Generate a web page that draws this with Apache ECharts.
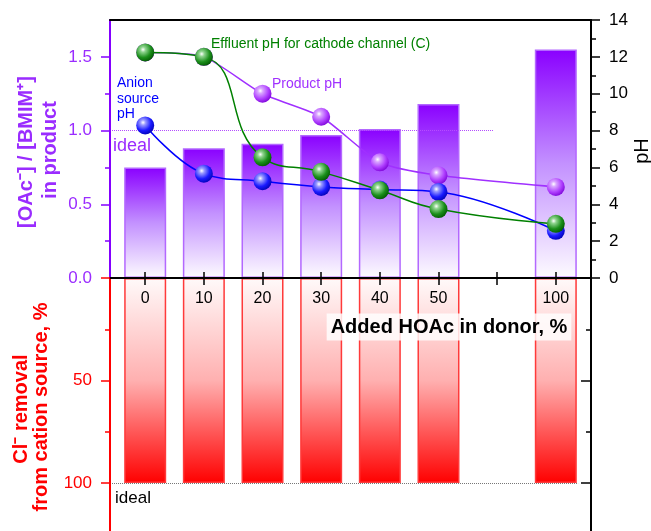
<!DOCTYPE html>
<html>
<head>
<meta charset="utf-8">
<script src="https://cdn.jsdelivr.net/npm/echarts@6/dist/echarts.min.js"></script>
<style>
html,body{margin:0;padding:0;background:#fff;}
#chart{width:651px;height:531px;}
</style>
</head>
<body>
<div id="chart"></div>
<script>
// ---- data ----
const categories = ['0', '10', '20', '30', '40', '50', '', '100'];   // added HOAc in donor, % ('' = axis gap)
const ratioOAc   = [0.75, 0.88, 0.91, 0.97, 1.01, 1.18, null, 1.55]; // [OAc-]/[BMIM+] in product
const clRemoval  = [100, 100, 100, 100, 100, 100, null, 100];        // Cl- removal from cation source, %
const productPH  = [12.24, 12.0, 10.0, 8.75, 6.28, 5.57, null, 4.94];
const anionPH    = [8.28, 5.66, 5.25, 4.94, 4.80, 4.67, null, 2.56];
const effluentPH = [12.24, 12.0, 6.55, 5.76, 4.76, 3.74, null, 2.94];
const idealRatio = 1.0;
const idealRemoval = 100;
const ratioTicks = [0, 0.5, 1.0, 1.5];
const ratioMinorTicks = [0.25, 0.75, 1.25];
const removalTicks = [0, 50, 100];
const removalMinorTicks = [25, 75];

// ---- helpers ----
const FONT = 'Arial, "Liberation Sans", sans-serif';
const PURPLE = '#9a2cff', PURPLE_AXIS = '#8400ff', RED = '#ff0000', BLUE = '#0000ff', GREEN = '#008000';
const slotIdx = categories.map((c, i) => i);
const labelSlots = slotIdx.filter(i => categories[i] !== '');
const pts = arr => arr.map((v, i) => v == null ? null : [i, v]).filter(Boolean);
const sphere = (light, base, dark) => ({
  type: 'radial', x: 0.38, y: 0.34, r: 0.72,
  colorStops: [
    {offset: 0, color: '#ffffff'},
    {offset: 0.2, color: light},
    {offset: 0.62, color: base},
    {offset: 1, color: dark}
  ]
});
const X_MIN = -0.6, X_MAX = 7.6;

const chart = echarts.init(document.getElementById('chart'), null, {renderer: 'canvas'});

const xCommon = {type: 'value', min: X_MIN, max: X_MAX, interval: 1, splitLine: {show: false}, z: 10};

const option = {
  animation: false,
  backgroundColor: '#ffffff',
  grid: [
    {left: 110, right: 60, top: 20, height: 258, containLabel: false, outerBoundsMode: 'none'},
    {left: 110, right: 60, top: 278, bottom: 0, containLabel: false, outerBoundsMode: 'none'}
  ],
  xAxis: [
    Object.assign({}, xCommon, {
      gridIndex: 0, position: 'bottom',
      axisLine: {show: true, onZero: false, lineStyle: {color: '#000', width: 2}},
      axisTick: {show: true, inside: true, length: 6, customValues: slotIdx, lineStyle: {color: '#000', width: 1.5}},
      axisLabel: {show: false}
    }),
    Object.assign({}, xCommon, {
      gridIndex: 0, position: 'top',
      axisLine: {show: true, onZero: false, lineStyle: {color: '#000', width: 2}},
      axisTick: {show: false}, axisLabel: {show: false}
    }),
    Object.assign({}, xCommon, {
      gridIndex: 1, position: 'top',
      axisLine: {show: true, onZero: false, lineStyle: {color: '#000', width: 2}},
      axisTick: {show: true, inside: true, length: 7, customValues: slotIdx, lineStyle: {color: '#000', width: 1.5}},
      axisLabel: {show: true, inside: true, margin: 13, customValues: labelSlots,
        formatter: v => categories[Math.round(v)] || '', color: '#000', fontSize: 16, fontFamily: FONT}
    })
  ],
  yAxis: [
    { // 0: ratio (top-left)
      type: 'value', gridIndex: 0, position: 'left', min: 0, max: 1.75, interval: 0.25, z: 10,
      axisLine: {show: true, onZero: false, lineStyle: {color: PURPLE_AXIS, width: 2}},
      axisTick: {show: true, length: 9, customValues: ratioTicks.filter(v => v !== 0), lineStyle: {color: PURPLE_AXIS, width: 1.5}},
      axisLabel: {show: true, margin: 18, customValues: ratioTicks, formatter: v => v.toFixed(1),
        color: PURPLE, fontSize: 17, fontFamily: FONT},
      splitLine: {show: false}
    },
    { // 1: ratio minor ticks
      type: 'value', gridIndex: 0, position: 'left', min: 0, max: 1.75, interval: 0.25, z: 10,
      axisLine: {show: false, onZero: false},
      axisTick: {show: true, length: 5, customValues: ratioMinorTicks, lineStyle: {color: PURPLE_AXIS, width: 1.5}},
      axisLabel: {show: false}, splitLine: {show: false}
    },
    { // 2: pH (top-right)
      type: 'value', gridIndex: 0, position: 'right', min: 0, max: 14, interval: 2, z: 10,
      axisLine: {show: true, onZero: false, lineStyle: {color: '#000', width: 2}},
      axisTick: {show: true, length: 9, lineStyle: {color: '#000', width: 1.5}},
      minorTick: {show: true, splitNumber: 2, length: 5, lineStyle: {color: '#000', width: 1.5}},
      axisLabel: {show: true, margin: 18, color: '#000', fontSize: 17, fontFamily: FONT},
      splitLine: {show: false}, minorSplitLine: {show: false}
    },
    { // 3: Cl- removal (bottom-left)
      type: 'value', gridIndex: 1, position: 'left', inverse: true, min: 0, max: 123.4, interval: 50, z: 10,
      axisLine: {show: true, onZero: false, lineStyle: {color: RED, width: 2}},
      axisTick: {show: true, length: 9, customValues: removalTicks, lineStyle: {color: RED, width: 1.5}},
      axisLabel: {show: true, margin: 18, customValues: removalTicks.filter(v => v !== 0),
        color: RED, fontSize: 17, fontFamily: FONT},
      splitLine: {show: false}
    },
    { // 4: removal minor ticks
      type: 'value', gridIndex: 1, position: 'left', inverse: true, min: 0, max: 123.4, interval: 50, z: 10,
      axisLine: {show: false, onZero: false},
      axisTick: {show: true, length: 5, customValues: removalMinorTicks, lineStyle: {color: RED, width: 1.5}},
      axisLabel: {show: false}, splitLine: {show: false}
    },
    { // 5: bottom-right frame
      type: 'value', gridIndex: 1, position: 'right', inverse: true, min: 0, max: 123.4, interval: 50, z: 10,
      axisLine: {show: true, onZero: false, lineStyle: {color: '#000', width: 2}},
      axisTick: {show: true, inside: true, length: 10, customValues: removalTicks.filter(v => v !== 0), lineStyle: {color: '#000', width: 1.5}},
      axisLabel: {show: false}, splitLine: {show: false}
    },
    { // 6: bottom-right minor ticks
      type: 'value', gridIndex: 1, position: 'right', inverse: true, min: 0, max: 123.4, interval: 50, z: 10,
      axisLine: {show: false, onZero: false},
      axisTick: {show: true, inside: true, length: 5, customValues: removalMinorTicks, lineStyle: {color: '#000', width: 1.5}},
      axisLabel: {show: false}, splitLine: {show: false}
    }
  ],
  series: [
    {
      name: '[OAc-]/[BMIM+]', type: 'bar', xAxisIndex: 0, yAxisIndex: 0, barWidth: 42, z: 2,
      data: pts(ratioOAc),
      itemStyle: {
        color: {type: 'linear', x: 0, y: 0, x2: 0, y2: 1, colorStops: [
          {offset: 0, color: '#8a00ff'}, {offset: 0.5, color: '#c391ff'}, {offset: 1, color: '#fdfbff'}]},
        borderColor: '#b368ff', borderWidth: 1.5
      },
      markLine: {
        silent: true, symbol: 'none', z: 3, label: {show: false},
        lineStyle: {color: '#b44dff', type: 'dotted', width: 1},
        data: [[{coord: [X_MIN, idealRatio]}, {coord: [5.93, idealRatio]}]]
      }
    },
    {
      name: 'Cl- removal', type: 'bar', xAxisIndex: 2, yAxisIndex: 3, barWidth: 42, z: 2,
      data: pts(clRemoval),
      itemStyle: {
        color: {type: 'linear', x: 0, y: 0, x2: 0, y2: 1, colorStops: [
          {offset: 0, color: '#fffafa'}, {offset: 0.5, color: '#ffb0b0'}, {offset: 1, color: '#ff0000'}]},
        borderColor: '#ff3a3a', borderWidth: 1.5
      },
      markLine: {
        silent: true, symbol: 'none', z: 3, label: {show: false},
        lineStyle: {color: '#777', type: 'dotted', width: 1},
        data: [[{coord: [X_MIN, idealRemoval]}, {coord: [7.38, idealRemoval]}]]
      }
    },
    {
      name: 'Product pH', type: 'line', xAxisIndex: 0, yAxisIndex: 2, z: 4,
      data: pts(productPH), smooth: 0.22, symbol: 'circle', symbolSize: 18,
      lineStyle: {color: '#a030ff', width: 1.5},
      itemStyle: {color: sphere('#d9a6ff', '#b040ff', '#7a00d6')}
    },
    {
      name: 'Anion source pH', type: 'line', xAxisIndex: 0, yAxisIndex: 2, z: 5,
      data: pts(anionPH), smooth: 0.4, symbol: 'circle', symbolSize: 18,
      lineStyle: {color: BLUE, width: 1.5},
      itemStyle: {color: sphere('#9a9aff', '#1a1aff', '#0000b0')}
    },
    {
      name: 'Effluent pH', type: 'line', xAxisIndex: 0, yAxisIndex: 2, z: 6,
      data: pts(effluentPH), smooth: 0.5, symbol: 'circle', symbolSize: 18,
      lineStyle: {color: GREEN, width: 1.5},
      itemStyle: {color: sphere('#8fd48f', '#1b8f1b', '#005400')}
    }
  ],
  graphic: [
    {type: 'text', x: 26, y: 152, rotation: Math.PI / 2, z: 100,
      style: {text: '[OAc⁻] / [BMIM⁺]', fill: PURPLE, font: 'bold 20px ' + FONT,
        align: 'center', verticalAlign: 'middle', textAlign: 'center', textVerticalAlign: 'middle'}},
    {type: 'text', x: 50, y: 150, rotation: Math.PI / 2, z: 100,
      style: {text: 'in product', fill: PURPLE, font: 'bold 20px ' + FONT,
        align: 'center', verticalAlign: 'middle', textAlign: 'center', textVerticalAlign: 'middle'}},
    {type: 'text', x: 21, y: 409, rotation: Math.PI / 2, z: 100,
      style: {text: 'Cl⁻ removal', fill: RED, font: 'bold 20px ' + FONT,
        align: 'center', verticalAlign: 'middle', textAlign: 'center', textVerticalAlign: 'middle'}},
    {type: 'text', x: 41, y: 407, rotation: Math.PI / 2, z: 100,
      style: {text: 'from cation source, %', fill: RED, font: 'bold 20px ' + FONT,
        align: 'center', verticalAlign: 'middle', textAlign: 'center', textVerticalAlign: 'middle'}},
    {type: 'text', x: 642, y: 151, rotation: Math.PI / 2, z: 100,
      style: {text: 'pH', fill: '#000', font: '20px ' + FONT,
        align: 'center', verticalAlign: 'middle', textAlign: 'center', textVerticalAlign: 'middle'}},
    {type: 'text', x: 211, y: 44, z: 100,
      style: {text: 'Effluent pH for cathode channel (C)', fill: GREEN, font: '14px ' + FONT,
        align: 'left', verticalAlign: 'middle', textAlign: 'left', textVerticalAlign: 'middle'}},
    {type: 'text', x: 272, y: 84, z: 100,
      style: {text: 'Product pH', fill: '#a030ff', font: '14px ' + FONT,
        align: 'left', verticalAlign: 'middle', textAlign: 'left', textVerticalAlign: 'middle'}},
    {type: 'text', x: 117, y: 99, z: 100,
      style: {text: 'Anion\nsource\npH', fill: BLUE, font: '14px ' + FONT, lineHeight: 15.5,
        align: 'left', verticalAlign: 'middle', textAlign: 'left', textVerticalAlign: 'middle'}},
    {type: 'text', x: 113, y: 146, z: 100,
      style: {text: 'ideal', fill: PURPLE, font: '18px ' + FONT,
        align: 'left', verticalAlign: 'middle', textAlign: 'left', textVerticalAlign: 'middle'}},
    {type: 'text', x: 115, y: 498, z: 100,
      style: {text: 'ideal', fill: '#000', font: '17px ' + FONT,
        align: 'left', verticalAlign: 'middle', textAlign: 'left', textVerticalAlign: 'middle'}},
    {type: 'text', x: 449, y: 327, z: 100,
      style: {text: 'Added HOAc in donor, %', fill: '#000', font: 'bold 20px ' + FONT,
        backgroundColor: 'rgba(255,255,255,0.82)', padding: [4, 4, 3, 4],
        align: 'center', verticalAlign: 'middle', textAlign: 'center', textVerticalAlign: 'middle'}}
  ]
};
chart.setOption(option);
</script>
</body>
</html>
